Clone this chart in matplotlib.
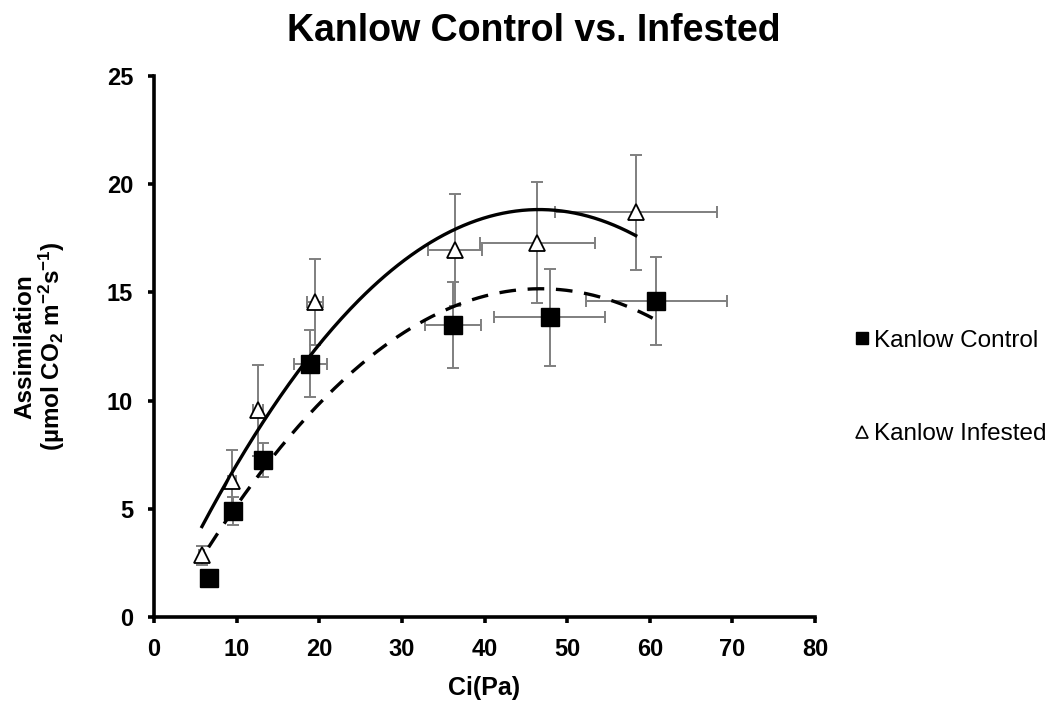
import matplotlib
matplotlib.use('Agg')
import matplotlib.pyplot as plt
from matplotlib.lines import Line2D
import numpy as np

plt.rcParams['font.family'] = ['Liberation Sans', 'DejaVu Sans']
plt.rcParams['mathtext.fontset'] = 'custom'
plt.rcParams['mathtext.rm'] = 'Liberation Sans:bold'
plt.rcParams['mathtext.default'] = 'rm'

# Kanlow Control (squares)
ctrl_x = [6.6, 9.6, 13.2, 18.9, 36.2, 47.9, 60.8]
ctrl_y = [1.8, 4.9, 7.25, 11.7, 13.5, 13.85, 14.6]
ctrl_xerr = [0.3, 0.6, 0.8, 2.0, 3.4, 6.7, 8.5]
ctrl_yerr = [0.2, 0.65, 0.8, 1.55, 2.0, 2.25, 2.05]

# Kanlow Infested (triangles)
inf_x = [5.8, 9.4, 12.6, 19.5, 36.4, 46.4, 58.3]
inf_y = [2.85, 6.3, 9.55, 14.55, 16.95, 17.3, 18.7]
inf_xerr = [0.3, 0.5, 0.6, 1.0, 3.3, 7.0, 9.8]
inf_yerr = [0.45, 1.4, 2.1, 2.0, 2.6, 2.8, 2.65]

x_ticks = [0, 10, 20, 30, 40, 50, 60, 70, 80]
y_ticks = [0, 5, 10, 15, 20, 25]

fig = plt.figure(figsize=(10.6, 7.02), dpi=100)
ax = fig.add_axes([0.1453, 0.1211, 0.6236, 0.7707])

# error bars
ax.errorbar(ctrl_x, ctrl_y, xerr=ctrl_xerr, yerr=ctrl_yerr, fmt='none',
            ecolor='#7f7f7f', elinewidth=1.4, capsize=4, capthick=1.4, zorder=2)
ax.errorbar(inf_x, inf_y, xerr=inf_xerr, yerr=inf_yerr, fmt='none',
            ecolor='#7f7f7f', elinewidth=1.4, capsize=4, capthick=1.4, zorder=2)

# polynomial trendlines (order 2)
pc = np.polyfit(ctrl_x, ctrl_y, 2)
xc = np.linspace(min(ctrl_x), max(ctrl_x), 200)
ax.plot(xc, np.polyval(pc, xc), color='black', lw=2.4, ls=(0, (5, 3.5)), zorder=3)
pi = np.polyfit(inf_x, inf_y, 2)
xi = np.linspace(min(inf_x), max(inf_x), 200)
ax.plot(xi, np.polyval(pi, xi), color='black', lw=2.4, zorder=3)

ax.plot(ctrl_x, ctrl_y, ls='none', marker='s', ms=12.5, color='black', zorder=4)
ax.plot(inf_x, inf_y, ls='none', marker='^', ms=12, mfc='white', mec='black',
        mew=1.3, zorder=4)

ax.set_xlim(0, 80)
ax.set_ylim(0, 25)
ax.set_xticks(x_ticks)
ax.set_yticks(y_ticks)
ax.spines['top'].set_visible(False)
ax.spines['right'].set_visible(False)
for s in ['left', 'bottom']:
    ax.spines[s].set_linewidth(2.6)
ax.tick_params(width=2.6, length=4, direction='out')
ax.tick_params(axis='x', pad=11)
ax.tick_params(axis='y', pad=11)
for lab in ax.get_xticklabels() + ax.get_yticklabels():
    lab.set_fontsize(17)
    lab.set_fontweight('bold')

fig.text(0.504, 0.956, 'Kanlow Control vs. Infested', ha='center', va='center',
         fontsize=27, fontweight='bold')
fig.text(0.4566, 0.02, 'Ci(Pa)', ha='center', va='center', fontsize=18,
         fontweight='bold')
fig.text(0.0236, 0.5065, 'Assimilation', ha='center', va='center', rotation=90,
         fontsize=17.5, fontweight='bold')
fig.text(0.049, 0.5065, '(µmol CO$_2$ m$^{-2}$s$^{-1}$)', ha='center',
         va='center', rotation=90, fontsize=17.5, fontweight='bold')

handles = [Line2D([], [], ls='none', marker='s', ms=9, color='black'),
           Line2D([], [], ls='none', marker='^', ms=8, mfc='white', mec='black', mew=1.2)]
fig.legend(handles, ['Kanlow Control', 'Kanlow Infested'], loc='center left',
           bbox_to_anchor=(0.786, 0.448), frameon=False, fontsize=17.5,
           handlelength=0.6, handletextpad=0.2, labelspacing=2.95)

fig.savefig('out.png', dpi=100)
